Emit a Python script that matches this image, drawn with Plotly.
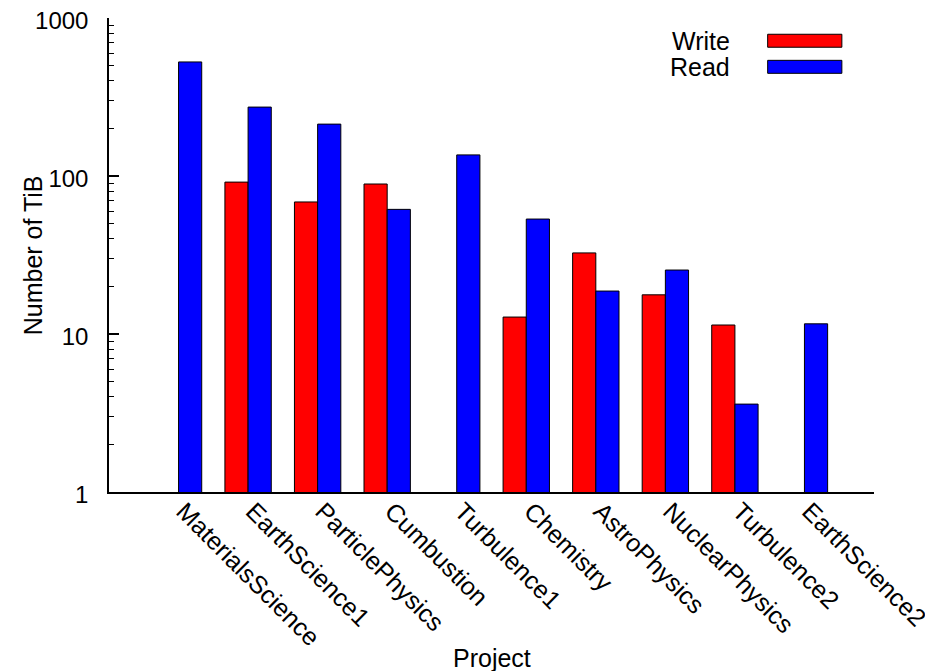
import plotly.graph_objects as go

projects = ["MaterialsScience", "EarthScience1", "ParticlePhysics", "Cumbustion",
            "Turbulence1", "Chemistry", "AstroPhysics", "NuclearPhysics",
            "Turbulence2", "EarthScience2"]
write_tib = [None, 91.5, 68.5, 89, None, 12.8, 32.6, 17.7, 11.4, None]
read_tib = [527, 273, 213, 61.5, 136, 53.4, 18.7, 25.4, 3.6, 11.6]

y_tickvals = [1, 10, 100, 1000]
y_ticktext = ["1", "10", "100", "1000"]
y_minor = [m * 10 ** e for e in range(3) for m in range(2, 10)]

FONT = "Liberation Sans, Arial, Helvetica, sans-serif"
FS = 25

fig = go.Figure()
fig.add_trace(go.Bar(name="Write", x=projects, y=write_tib,
                     marker=dict(color="#ff0000", line=dict(color="black", width=1)),
                     showlegend=False))
fig.add_trace(go.Bar(name="Read", x=projects, y=read_tib,
                     marker=dict(color="#0000ff", line=dict(color="black", width=1)),
                     showlegend=False))

# the page body adds an 8px margin, so the figure is 8px smaller than the window
fig.update_layout(
    width=925, height=663,
    margin=dict(l=101, r=59, t=10, b=179, autoexpand=False),
    plot_bgcolor="white", paper_bgcolor="white",
    barmode="group", bargap=1/3, bargroupgap=0,
    font=dict(family=FONT, size=FS, color="black"),
    showlegend=False,
)
fig.update_xaxes(
    type="category", range=[-1, 10], automargin=False,
    showline=True, linecolor="black", linewidth=1.5,
    ticks="", tickangle=45, showgrid=False, zeroline=False,
    ticklabelstandoff=-7, ticklabelshift=5, ticklabeloverflow="allow",
    tickfont=dict(family=FONT, size=FS, color="black"),
)
fig.update_yaxes(
    type="log", range=[0, 3], automargin=False,
    showline=True, linecolor="black", linewidth=1.5,
    tickmode="array", tickvals=y_tickvals, ticktext=y_ticktext,
    ticks="inside", ticklen=10, tickwidth=1.5, tickcolor="black",
    minor=dict(tickmode="array", tickvals=y_minor, ticks="inside",
               ticklen=5, tickwidth=1, tickcolor="black", showgrid=False),
    showgrid=False, zeroline=False, ticklabelstandoff=14, ticklabelshift=3,
    ticklabeloverflow="allow",
    tickfont=dict(family=FONT, size=24, color="black"),
)

# axis titles
fig.add_annotation(text="Number of TiB", xref="paper", yref="paper",
                   x=-0.099, y=0.5, textangle=-90, showarrow=False,
                   xanchor="center", yanchor="middle",
                   font=dict(family=FONT, size=FS, color="black"))
fig.add_annotation(text="Project", xref="paper", yref="paper",
                   x=0.5, y=-0.35, showarrow=False,
                   xanchor="center", yanchor="middle",
                   font=dict(family=FONT, size=FS, color="black"))

# legend (gnuplot style: text on the left, swatch on the right)
legend_items = [("Write", "#ff0000"), ("Read", "#0000ff")]
for i, (name, col) in enumerate(legend_items):
    yc = 0.952 - i * 0.055
    fig.add_annotation(text=name, xref="paper", yref="paper",
                       x=0.814, y=yc, showarrow=False,
                       xanchor="right", yanchor="middle",
                       font=dict(family=FONT, size=FS, color="black"))
    fig.add_shape(type="rect", xref="paper", yref="paper",
                  x0=0.861, x1=0.958, y0=yc - 0.0137, y1=yc + 0.0137,
                  fillcolor=col, line=dict(color="black", width=1))

fig.write_html("out.html")
